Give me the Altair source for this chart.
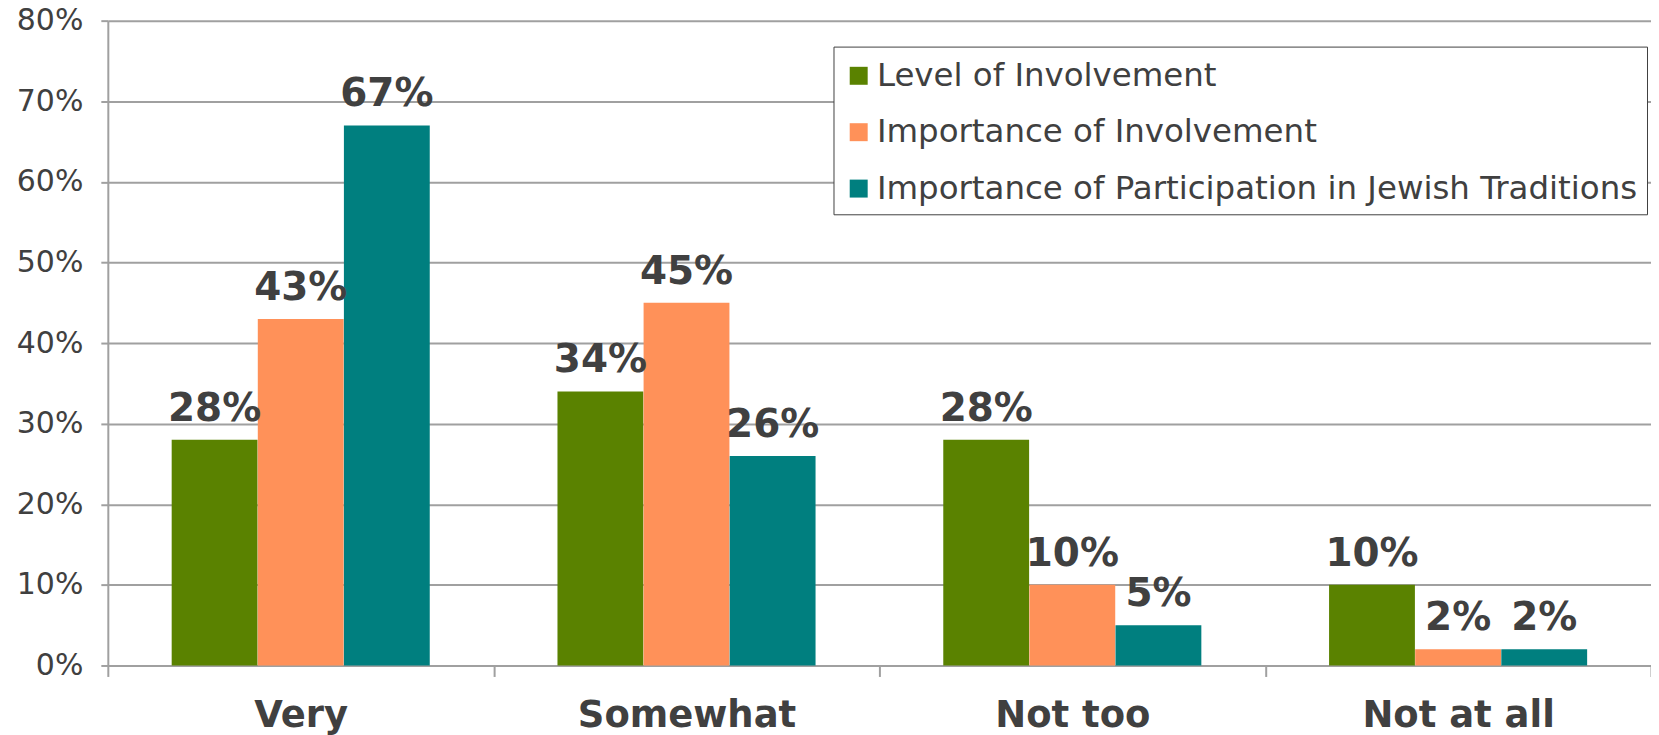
import altair as alt
import pandas as pd

categories = ["Very", "Somewhat", "Not too", "Not at all"]
series = ["Level of Involvement", "Importance of Involvement",
          "Importance of Participation in Jewish Traditions"]
level_of_involvement = [0.28, 0.34, 0.28, 0.10]
importance_of_involvement = [0.43, 0.45, 0.10, 0.02]
importance_of_traditions = [0.67, 0.26, 0.05, 0.02]
colors = ["#5A8200", "#FF9159", "#007F7F"]

rows = []
for s, vals in zip(series, [level_of_involvement, importance_of_involvement, importance_of_traditions]):
    for c, v in zip(categories, vals):
        rows.append({"category": c, "series": s, "value": v})
df = pd.DataFrame(rows)

FONT = "DejaVu Sans"
TXT = "#404040"
GRID = "#A0A0A0"

x = alt.X("category:N", sort=categories, title=None,
          scale=alt.Scale(paddingInner=0, paddingOuter=0),
          axis=alt.Axis(labelAngle=0, labelFont=FONT, labelFontSize=37, labelFontWeight="bold",
                        labelColor=TXT, labelLimit=1000, tickBand="extent", grid=False,
                        domainColor=GRID, domainWidth=2, tickColor=GRID, tickWidth=2,
                        tickSize=11, labelPadding=21))
xo = alt.XOffset("series:N", sort=series, scale=alt.Scale(paddingOuter=0.74, paddingInner=0))
y = alt.Y("value:Q", title=None,
          scale=alt.Scale(domain=[0, 0.8], nice=False),
          axis=alt.Axis(format=".0%", values=[0, 0.1, 0.2, 0.3, 0.4, 0.5, 0.6, 0.7, 0.8],
                        labelFont=FONT, labelFontSize=30, labelColor=TXT, grid=True,
                        gridColor=GRID, gridWidth=2, domainColor=GRID, domainWidth=2,
                        tickColor=GRID, tickWidth=2, tickSize=7, labelPadding=18))

color = alt.Color("series:N", sort=series,
                  scale=alt.Scale(domain=series, range=colors),
                  legend=alt.Legend(title=" ", titleFontSize=1, titlePadding=3,
                                    orient="none", legendX=727, legendY=26,
                                    symbolType="square", symbolSize=324, symbolStrokeWidth=0,
                                    labelFont=FONT, labelFontSize=32.5, labelColor=TXT,
                                    labelLimit=1000, labelOffset=2, rowPadding=23.5,
                                    padding=9, strokeColor=TXT, fillColor="white",
                                    symbolOpacity=1))

bars = alt.Chart(df).mark_bar(size=86).encode(x=x, xOffset=xo, y=y, color=color)
labels = alt.Chart(df).mark_text(font=FONT, fontSize=39, fontWeight="bold", color=TXT,
                                 baseline="alphabetic", dy=-19).encode(
    x=alt.X("category:N", sort=categories),
    xOffset=alt.XOffset("series:N", sort=series),
    y="value:Q",
    text=alt.Text("value:Q", format=".0%"))

chart = (bars + labels).properties(
    width=1546, height=646,
    autosize=alt.AutoSizeParams(type="none"),
    padding={"left": 100, "top": 12, "right": 0, "bottom": 74},
).configure_view(stroke=None)

chart.save("out.html", embed_options={"renderer": "svg", "actions": False})
